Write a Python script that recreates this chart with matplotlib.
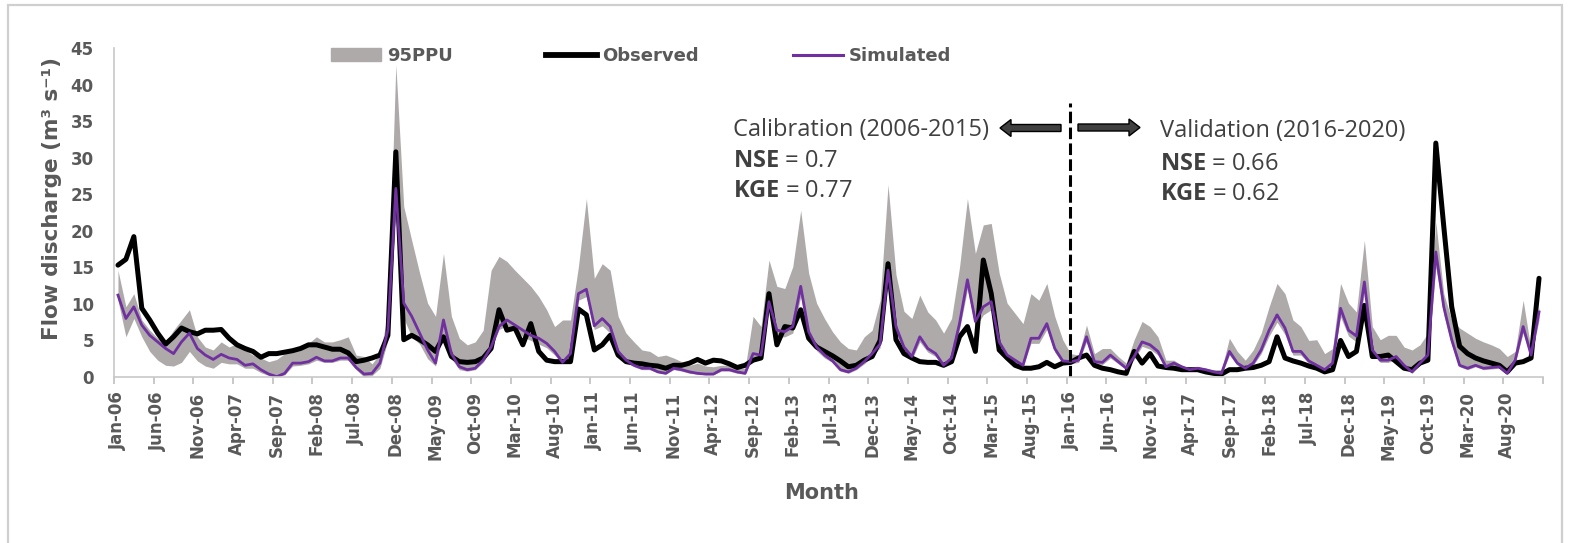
import matplotlib.pyplot as plt
import matplotlib.patches as mpatches
from matplotlib.lines import Line2D
import numpy as np
import pandas as pd

plt.rcParams['mathtext.fontset'] = 'custom'
plt.rcParams['mathtext.rm'] = 'Open Sans'
plt.rcParams['mathtext.bf'] = 'Open Sans:bold'

# monthly categories Jan-06 .. Dec-20
months = pd.date_range('2006-01-01', periods=180, freq='MS').strftime('%b-%y').tolist()

# one row per year (Jan..Dec), 2006..2020
observed = [
    15.3, 16.1, 19.2, 9.4, 7.8, 6.0, 4.5, 5.5, 6.7, 6.2, 5.9, 6.4,
    6.4, 6.5, 5.3, 4.4, 3.9, 3.5, 2.7, 3.2, 3.2, 3.4, 3.6, 3.9,
    4.4, 4.4, 4.1, 3.8, 3.8, 3.3, 2.1, 2.3, 2.6, 3.0, 5.7, 30.8,
    5.1, 5.7, 5.1, 4.4, 3.5, 5.5, 2.8, 2.1, 2.0, 2.1, 2.6, 3.9,
    9.2, 6.4, 6.7, 4.4, 7.3, 3.5, 2.3, 2.1, 2.1, 2.1, 9.3, 8.5,
    3.7, 4.4, 5.7, 3.0, 2.1, 1.9, 1.8, 1.6, 1.5, 1.2, 1.6, 1.6,
    1.9, 2.4, 1.9, 2.3, 2.2, 1.8, 1.3, 1.6, 2.3, 2.6, 11.4, 4.4,
    6.9, 6.7, 9.2, 5.3, 4.1, 3.5, 2.9, 2.2, 1.4, 1.6, 2.3, 2.8,
    5.0, 15.5, 5.1, 3.2, 2.6, 2.1, 2.0, 2.0, 1.6, 2.1, 5.5, 6.9,
    3.5, 16.0, 11.4, 3.7, 2.6, 1.6, 1.2, 1.2, 1.4, 2.0, 1.4, 1.9,
    2.0, 2.6, 3.0, 1.6, 1.2, 1.0, 0.7, 0.5, 3.5, 1.9, 3.2, 1.5,
    1.3, 1.2, 1.0, 1.0, 1.0, 0.7, 0.5, 0.4, 1.0, 1.0, 1.2, 1.3,
    1.6, 2.1, 5.5, 2.6, 2.2, 1.9, 1.5, 1.2, 0.7, 1.0, 5.0, 2.8,
    3.5, 9.8, 2.8, 2.8, 3.0, 2.1, 1.2, 1.0, 1.9, 2.3, 32.0, 20.6,
    9.6, 4.2, 3.2, 2.6, 2.2, 1.9, 1.6, 0.7, 1.9, 2.1, 2.6, 13.5,
]

simulated = [
    11.2, 8.0, 9.6, 7.1, 5.7, 4.8, 3.9, 3.2, 4.8, 6.0, 3.9, 3.0,
    2.4, 3.1, 2.6, 2.4, 1.6, 1.8, 1.0, 0.4, 0.05, 0.5, 1.9, 1.9,
    2.1, 2.7, 2.2, 2.2, 2.6, 2.6, 1.3, 0.4, 0.5, 1.9, 6.4, 25.8,
    10.1, 8.3, 6.0, 3.7, 1.9, 7.8, 3.2, 1.4, 1.0, 1.2, 2.3, 4.1,
    6.9, 7.8, 7.1, 6.4, 5.7, 5.3, 4.6, 3.5, 2.0, 3.2, 11.4, 12.0,
    7.0, 8.0, 6.9, 3.5, 2.3, 1.6, 1.2, 1.2, 0.7, 0.5, 1.2, 1.0,
    0.7, 0.5, 0.4, 0.4, 1.0, 1.0, 0.7, 0.5, 3.2, 3.0, 10.3, 6.4,
    6.2, 6.9, 12.4, 6.2, 4.1, 3.0, 2.2, 1.0, 0.7, 1.2, 2.1, 3.2,
    4.5, 14.6, 6.9, 4.1, 2.8, 5.5, 3.9, 3.2, 1.6, 2.6, 7.3, 13.3,
    7.6, 9.6, 10.3, 4.8, 3.0, 2.3, 1.6, 5.3, 5.3, 7.3, 3.9, 2.2,
    2.1, 2.3, 5.5, 2.1, 2.0, 3.0, 2.1, 1.2, 2.8, 4.8, 4.4, 3.5,
    1.4, 1.9, 1.4, 1.0, 1.2, 1.0, 0.7, 0.5, 3.5, 1.9, 1.2, 1.9,
    3.7, 6.4, 8.5, 6.7, 3.5, 3.5, 2.2, 1.6, 1.0, 1.9, 9.4, 6.4,
    5.6, 13.0, 3.7, 2.3, 2.3, 2.8, 1.6, 0.7, 1.9, 3.0, 17.1, 9.6,
    5.1, 1.6, 1.2, 1.6, 1.2, 1.3, 1.4, 0.5, 2.3, 6.9, 3.0, 8.9,
]

ppu_upper = [
    14.6, 9.6, 11.4, 7.8, 6.4, 5.3, 4.8, 6.4, 7.8, 9.2, 5.5, 4.1,
    3.7, 4.8, 4.1, 4.6, 3.7, 3.0, 2.6, 2.1, 2.4, 3.2, 3.5, 4.1,
    4.6, 5.5, 4.8, 4.8, 5.1, 5.5, 3.0, 2.8, 1.8, 3.2, 8.7, 42.7,
    23.3, 18.7, 14.2, 10.1, 8.3, 16.9, 8.3, 5.3, 4.4, 4.8, 6.4, 14.6,
    16.5, 15.8, 14.6, 13.5, 12.4, 11.0, 9.2, 6.9, 7.8, 7.8, 15.1, 24.4,
    13.5, 15.5, 14.6, 8.3, 6.0, 4.8, 3.7, 3.5, 2.8, 3.0, 2.6, 2.1,
    1.6, 1.9, 1.5, 1.4, 1.6, 1.6, 1.2, 1.2, 8.3, 6.9, 16.0, 12.4,
    12.1, 15.1, 22.8, 14.2, 10.1, 8.0, 6.2, 4.8, 3.9, 3.7, 5.5, 6.4,
    10.5, 26.3, 14.0, 9.0, 8.0, 11.2, 8.9, 7.8, 6.0, 8.0, 15.0, 24.4,
    16.9, 20.8, 21.0, 14.2, 10.1, 8.7, 7.3, 11.4, 10.5, 12.8, 8.3, 5.1,
    3.2, 3.0, 7.1, 3.2, 3.9, 3.9, 2.8, 1.9, 5.1, 7.6, 6.9, 5.5,
    2.3, 2.3, 1.6, 1.2, 1.4, 1.2, 1.0, 1.0, 5.3, 3.5, 2.3, 3.7,
    6.0, 9.6, 12.8, 11.4, 7.8, 6.9, 5.0, 5.1, 3.2, 3.9, 12.8, 10.1,
    8.9, 18.7, 6.9, 5.1, 5.7, 5.7, 4.1, 3.7, 4.4, 6.0, 21.2, 11.4,
    7.8, 6.7, 6.0, 5.3, 4.8, 4.4, 3.9, 2.8, 3.5, 10.5, 3.7, 9.6,
]

ppu_lower = [
    10.5, 5.5, 8.0, 5.5, 3.5, 2.3, 1.6, 1.5, 2.0, 3.5, 2.2, 1.5,
    1.2, 2.0, 1.8, 1.8, 1.2, 1.2, 0.6, 0.2, 0.0, 0.3, 1.5, 1.6,
    1.8, 2.3, 2.0, 2.0, 2.3, 2.3, 1.0, 0.0, 0.2, 1.2, 5.0, 22.0,
    8.0, 5.5, 4.5, 2.5, 1.5, 6.0, 2.5, 1.0, 0.8, 1.0, 2.0, 3.8,
    6.5, 7.0, 6.5, 5.5, 5.0, 4.5, 4.0, 3.0, 1.8, 2.8, 10.5, 11.0,
    6.5, 7.0, 6.0, 3.0, 2.0, 1.4, 1.0, 1.0, 0.6, 0.4, 1.0, 0.8,
    0.5, 0.4, 0.3, 0.3, 0.8, 0.8, 0.5, 0.4, 2.8, 2.6, 9.5, 5.5,
    5.5, 6.0, 11.0, 5.5, 3.6, 2.6, 2.0, 0.8, 0.5, 1.0, 1.8, 2.8,
    4.0, 13.5, 6.0, 3.6, 2.4, 4.8, 3.4, 2.8, 1.4, 2.2, 6.5, 12.0,
    6.8, 8.5, 9.2, 4.2, 2.6, 2.0, 1.4, 4.6, 4.6, 6.5, 3.4, 1.9,
    1.8, 2.0, 4.8, 1.8, 1.7, 2.6, 1.8, 1.0, 2.4, 4.2, 3.8, 3.0,
    1.2, 1.6, 1.2, 0.8, 1.0, 0.8, 0.5, 0.3, 3.0, 1.6, 1.0, 1.6,
    3.2, 5.6, 7.5, 5.8, 3.0, 3.0, 1.8, 1.4, 0.8, 1.7, 8.2, 5.6,
    4.8, 11.5, 3.2, 2.0, 2.0, 2.4, 1.4, 0.5, 1.6, 2.6, 15.0, 8.5,
    4.4, 1.4, 1.0, 1.4, 1.0, 1.1, 1.2, 0.4, 2.0, 6.0, 2.6, 7.8,
]

split_month = 'Jan-16'

W, H = 1570, 543
GREY_TXT = '#595959'
fig = plt.figure(figsize=(W / 100, H / 100), dpi=100)
ax = fig.add_axes([114 / W, 1 - 377 / H, (1543 - 114) / W, (377 - 48) / H])

x = np.arange(len(months))
ax.fill_between(x, ppu_lower, ppu_upper, color='#AEAAAA', lw=0)
ax.plot(x, observed, color='black', lw=3.6, solid_joinstyle='round', solid_capstyle='round')
ax.plot(x, simulated, color='#7030A0', lw=2.0, solid_joinstyle='round')

# calibration / validation split
xs = months.index(split_month) - 0.1
ax.vlines(xs, 0, 37.5, colors='black', linestyles=(0, (3.8, 1.4)), lw=2.2)

ax.set_xlim(-0.5, len(months) - 0.5)
ax.set_ylim(0, 45)
ax.set_yticks(range(0, 46, 5))
ax.set_xticks(x[::5])
ax.set_xticklabels(months[::5], rotation=90)
ax.set_xticks(np.arange(-0.5, len(months), 5), minor=True)

ax.tick_params(axis='x', which='major', length=0, pad=10.5)
ax.tick_params(axis='x', which='minor', length=5, width=1.2, color='#BFBFBF', direction='out')
ax.tick_params(axis='y', length=0, pad=14.5)
for lab in ax.get_xticklabels() + ax.get_yticklabels():
    lab.set_fontweight('bold')
    lab.set_fontsize(12)
    lab.set_color(GREY_TXT)

for s in ['top', 'right']:
    ax.spines[s].set_visible(False)
for s in ['left', 'bottom']:
    ax.spines[s].set_color('#C8C8C8')
    ax.spines[s].set_linewidth(1.2)

fig.text(51.7 / W, 1 - 198 / H, 'Flow discharge (m³ s⁻¹)', rotation=90, ha='center', va='center',
         fontsize=15.5, fontweight='bold', color=GREY_TXT)
fig.text(822 / W, 1 - 493 / H, 'Month', ha='center', va='center',
         fontsize=15, fontweight='bold', color=GREY_TXT)

# legend
handles = [mpatches.Patch(color='#AEAAAA'),
           Line2D([], [], color='black', lw=4.2),
           Line2D([], [], color='#7030A0', lw=2.2)]
fig.legend(handles, ['95PPU', 'Observed', 'Simulated'], ncol=3, loc='center',
           bbox_to_anchor=(641 / W, 1 - 56 / H), frameon=False,
           prop={'weight': 'bold', 'size': 13}, labelcolor=GREY_TXT,
           handlelength=2.8, handletextpad=0.3, columnspacing=5.2)

# annotations
ann = dict(family='Open Sans', fontsize=17, color='#404040', va='baseline')
fig.text(733 / W, 1 - 135.5 / H, 'Calibration (2006-2015)', **ann)
fig.text(733 / W, 1 - 167 / H, r'$\mathbf{NSE}$ = 0.7', **ann)
fig.text(733 / W, 1 - 197 / H, r'$\mathbf{KGE}$ = 0.77', **ann)
fig.text(1160 / W, 1 - 136.5 / H, 'Validation (2016-2020)', **ann)
fig.text(1160 / W, 1 - 169.5 / H, r'$\mathbf{NSE}$ = 0.66', **ann)
fig.text(1160 / W, 1 - 199.5 / H, r'$\mathbf{KGE}$ = 0.62', **ann)

arrow_kw = dict(width=7 / H, head_width=17 / H, head_length=11 / W, length_includes_head=True,
                transform=fig.transFigure, fc='#404040', ec='black', lw=1)
fig.add_artist(mpatches.FancyArrow(1061 / W, 1 - 128 / H, -61 / W, 0, **arrow_kw))
fig.add_artist(mpatches.FancyArrow(1078 / W, 1 - 127.5 / H, 62 / W, 0, **arrow_kw))

# outer chart border
fig.add_artist(mpatches.Rectangle((8 / W, -0.01), (1562 - 8) / W, 1.01 - 5 / H,
                                  transform=fig.transFigure, fill=False, ec='#CFCFCF', lw=1.6))

fig.savefig('out.png', dpi=100)
